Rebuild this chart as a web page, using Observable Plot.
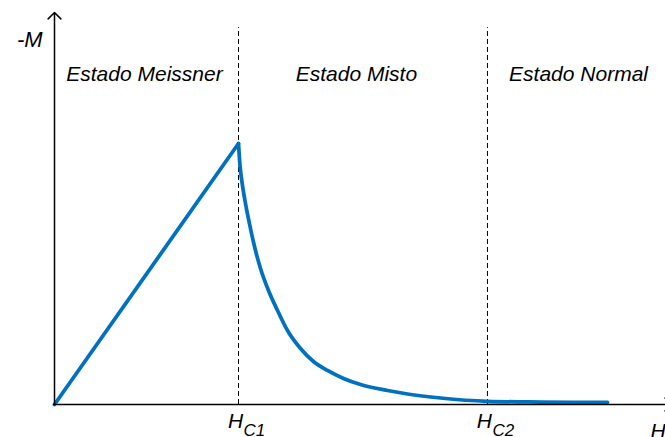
<!DOCTYPE html>
<html>
<head>
<meta charset="utf-8">
<script src="https://cdn.jsdelivr.net/npm/d3@7"></script>
<script src="https://cdn.jsdelivr.net/npm/@observablehq/plot@0.6"></script>
<style>
  html, body { margin: 0; padding: 0; background: #fff; }
  #chart svg { display: block; }
</style>
</head>
<body>
<div id="chart"></div>
<script>
// Field H in units of Hc1; -M in units of its peak value
const Hc1 = 1;
const Hc2 = 2.353;
const riseH = [0, 1];
const riseM = [0, 1];
const decayH = [1.000, 1.0082, 1.0217, 1.0380, 1.0652, 1.0924, 1.1196, 1.1630, 1.2120, 1.2663, 1.3370, 1.4076, 1.4837, 1.5707, 1.6630, 1.8098, 1.9185, 2.0978, 2.3533, 2.6413, 3.0054];
const decayM = [1.000, 0.9157, 0.8391, 0.7701, 0.6743, 0.5900, 0.5211, 0.4368, 0.3602, 0.2835, 0.2146, 0.1648, 0.1303, 0.0996, 0.0766, 0.0536, 0.0402, 0.0249, 0.0123, 0.0092, 0.0077];
const regionNames = ["Estado Meissner", "Estado Misto", "Estado Normal"];
const regionCenters = [0.489, 1.641, 2.848];
const criticalFields = [Hc1, Hc2];
const criticalSubs = ["C1", "C2"];
const xMax = 3.3207, yMax = 1.548;
const yAxisTop = 1.502, xAxisEnd = 3.353, dashTop = 1.444;

const rise = riseH.map((h, i) => ({h, m: riseM[i]}));
const decay = decayH.map((h, i) => ({h, m: decayM[i]}));
const regions = regionNames.map((name, i) => ({name, h: regionCenters[i]}));
const crit = criticalFields.map((h, i) => ({h, sub: criticalSubs[i]}));

const font = "Liberation Sans, Arial, sans-serif";
const blue = "#0070c0";

const chart = Plot.plot({
  width: 665,
  height: 437,
  marginLeft: 54,
  marginRight: 0,
  marginTop: 0,
  marginBottom: 33,
  x: {domain: [0, xMax], axis: null},
  y: {domain: [0, yMax], axis: null},
  style: {fontFamily: font, background: "#fff"},
  marks: [
    Plot.ruleX(crit, {x: "h", y1: 0, y2: dashTop, stroke: "#000", strokeWidth: 1, strokeDasharray: "5,3"}),
    Plot.line(rise, {x: "h", y: "m", stroke: blue, strokeWidth: 3.75, curve: "linear"}),
    Plot.line(decay, {x: "h", y: "m", stroke: blue, strokeWidth: 3.75, curve: "monotone-x"}),
    Plot.arrow([{x1: 0, y1: 0, x2: 0, y2: yAxisTop}], {x1: "x1", y1: "y1", x2: "x2", y2: "y2", stroke: "#000", strokeWidth: 1.5, headLength: 9, headAngle: 90}),
    Plot.arrow([{x1: -0.005, y1: 0, x2: xAxisEnd, y2: 0}], {x1: "x1", y1: "y1", x2: "x2", y2: "y2", stroke: "#000", strokeWidth: 1.5, headLength: 9, headAngle: 90}),
    Plot.text(regions, {x: "h", y: 1.267, text: "name", fontSize: 21, fontStyle: "italic", fill: "#000", textAnchor: "middle"}),
    Plot.text(["-M"], {x: -0.065, y: 1.398, text: d => d, fontSize: 22, fontStyle: "italic", fill: "#000", textAnchor: "end"}),
    Plot.text(crit, {x: "h", y: 0, text: () => "H", fontSize: 21, fontStyle: "italic", fill: "#000", textAnchor: "middle", dx: -3, dy: 16.3}),
    Plot.text(crit, {x: "h", y: 0, text: "sub", fontSize: 17, fontStyle: "italic", fill: "#000", textAnchor: "start", dx: 5, dy: 25.6}),
    Plot.text(["H"], {x: 3.239, y: 0, text: d => d, fontSize: 21, fontStyle: "italic", fill: "#000", textAnchor: "start", dy: 26.3})
  ]
});
document.getElementById("chart").appendChild(chart);
</script>
</body>
</html>
